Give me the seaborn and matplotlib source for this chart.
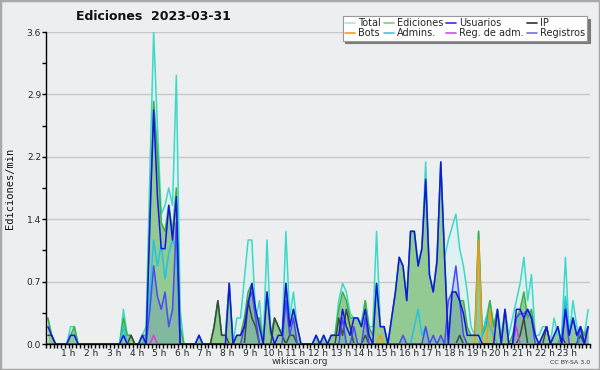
import numpy as np
import pandas as pd
import matplotlib
matplotlib.use("Agg")
import matplotlib.pyplot as plt
from matplotlib.lines import Line2D
from matplotlib.patches import Rectangle
import seaborn as sns

# Ediciones por minuto, intervalos de 10 min (144 puntos, 2 horas por fila)
total = [
    0.3, 0.1, 0, 0, 0, 0,   0.2, 0.2, 0, 0, 0, 0,
    0, 0, 0, 0, 0, 0,       0, 0, 0.4, 0.1, 0.1, 0,
    0, 0.1, 0.2, 2.0, 3.6, 2.5,   1.5, 1.6, 1.8, 1.6, 3.1, 0.4,
    0, 0, 0, 0, 0.1, 0,     0, 0, 0.2, 0.5, 0.1, 0.1,
    0.7, 0, 0.3, 0.3, 0.75, 1.2,  1.2, 0.3, 0.5, 0, 1.2, 0.1,
    0.3, 0.2, 0.1, 1.3, 0.3, 0.6, 0.2, 0, 0, 0, 0, 0.1,
    0, 0.1, 0, 0.1, 0.1, 0.5,  0.7, 0.6, 0.35, 0.3, 0.3, 0.25,
    0.5, 0.2, 0.2, 1.3, 0.2, 0.2,  0, 0.3, 0.6, 1.0, 0.9, 0.5,
    1.3, 1.3, 0.95, 1.1, 2.1, 0.8,  0.6, 1.0, 2.1, 1.0, 1.2, 1.35,
    1.5, 1.1, 0.9, 0.6, 0.2, 0.1,  1.3, 0.1, 0.3, 0.5, 0.2, 0.4,
    0.1, 0.4, 0.1, 0.3, 0.5, 0.7,  1.0, 0.5, 0.8, 0.1, 0.1, 0.2,
    0.2, 0, 0.3, 0.1, 0.1, 1.0,  0.1, 0.5, 0.2, 0.1, 0.1, 0.4,
]
ediciones = [
    0.3, 0.1, 0, 0, 0, 0,   0.1, 0.2, 0, 0, 0, 0,
    0, 0, 0, 0, 0, 0,       0, 0, 0.3, 0.1, 0.1, 0,
    0, 0.1, 0.1, 1.5, 2.8, 2.2,   1.4, 1.3, 1.6, 1.3, 1.8, 0.2,
    0, 0, 0, 0, 0.1, 0,     0, 0, 0.2, 0.5, 0.1, 0.1,
    0.7, 0, 0.1, 0.1, 0.3, 0.6,   0.7, 0.3, 0.3, 0, 0.6, 0.1,
    0.3, 0.2, 0.1, 0.7, 0.2, 0.4, 0.2, 0, 0, 0, 0, 0.1,
    0, 0.1, 0, 0.1, 0.1, 0.4,  0.6, 0.5, 0.3, 0.3, 0.3, 0.2,
    0.5, 0.2, 0.1, 0.7, 0.2, 0.2,  0, 0.3, 0.6, 1.0, 0.9, 0.5,
    1.3, 1.3, 0.9, 1.1, 1.9, 0.8,  0.6, 0.95, 2.1, 1.0, 0.1, 0.6,
    0.6, 0.5, 0.5, 0.2, 0.1, 0.1,  1.3, 0.1, 0.2, 0.5, 0.2, 0.4,
    0, 0.4, 0, 0.1, 0.3, 0.4,  0.6, 0.3, 0.4, 0.1, 0, 0.1,
    0.2, 0, 0.1, 0.2, 0, 0.5,  0.1, 0.3, 0.1, 0.2, 0.1, 0.2,
]
usuarios = [
    0.2, 0.1, 0, 0, 0, 0,   0.1, 0.1, 0, 0, 0, 0,
    0, 0, 0, 0, 0, 0,       0, 0, 0.1, 0, 0, 0,
    0, 0.1, 0, 1.4, 2.7, 1.7,   1.1, 1.1, 1.6, 1.2, 1.7, 0,
    0, 0, 0, 0, 0.1, 0,     0, 0, 0, 0, 0, 0,
    0.7, 0, 0.1, 0.1, 0.2, 0.45,  0.7, 0.4, 0.2, 0, 0.6, 0.15,
    0, 0.1, 0.1, 0.7, 0.2, 0.4,  0.2, 0, 0, 0, 0, 0.1,
    0, 0.1, 0, 0.1, 0.1, 0.1,  0.4, 0.2, 0.1, 0.3, 0.3, 0.2,
    0.4, 0.1, 0, 0.7, 0.2, 0.2,  0, 0.3, 0.6, 1.0, 0.9, 0.5,
    1.3, 1.3, 0.9, 1.1, 1.9, 0.8,  0.6, 0.95, 2.1, 1.0, 0, 0.6,
    0.6, 0.5, 0.35, 0.1, 0.1, 0.1,  0.1, 0, 0, 0, 0, 0.4,
    0, 0.4, 0, 0, 0.4, 0.4,  0.3, 0.4, 0.3, 0.1, 0, 0.1,
    0.2, 0, 0.1, 0.2, 0, 0.4,  0.1, 0.3, 0.1, 0.2, 0, 0.2,
]
ip = [
    0.1, 0.1, 0, 0, 0, 0,   0, 0, 0, 0, 0, 0,
    0, 0, 0, 0, 0, 0,       0, 0, 0, 0, 0.1, 0,
    0, 0, 0, 0, 0, 0,       0, 0, 0, 0, 0, 0,
    0, 0, 0, 0, 0, 0,       0, 0, 0.2, 0.5, 0.1, 0.1,
    0, 0, 0, 0, 0, 0.5,     0.3, 0.2, 0, 0, 0, 0,
    0.3, 0.2, 0.1, 0, 0.1, 0.1,  0, 0, 0, 0, 0, 0,
    0, 0, 0, 0, 0, 0.3,     0.1, 0.4, 0.2, 0, 0, 0,
    0.1, 0, 0, 0, 0, 0,     0, 0, 0, 0, 0, 0,
    0, 0, 0, 0, 0, 0,       0, 0, 0, 0, 0, 0,
    0, 0.1, 0, 0, 0, 0,     0, 0, 0, 0, 0, 0,
    0, 0, 0, 0, 0, 0.1,     0.3, 0, 0, 0, 0, 0,
    0.2, 0, 0, 0, 0.1, 0,   0, 0, 0, 0.1, 0, 0,
]
admins = [
    0, 0, 0, 0, 0, 0,       0.1, 0.1, 0, 0, 0, 0,
    0, 0, 0, 0, 0, 0,       0, 0, 0.2, 0, 0, 0,
    0, 0, 0.1, 0.6, 1.2, 0.9,   1.15, 0.75, 1.05, 1.2, 1.1, 0,
    0, 0, 0, 0, 0, 0,       0, 0, 0, 0, 0, 0,
    0, 0, 0, 0, 0, 0,       0, 0, 0, 0, 0, 0,
    0, 0, 0, 0, 0, 0,       0, 0, 0, 0, 0, 0,
    0, 0, 0, 0, 0, 0,       0, 0, 0, 0, 0, 0,
    0, 0, 0, 0, 0, 0,       0, 0, 0, 0, 0, 0,
    0, 0.2, 0.4, 0.1, 0.2, 0,   0, 0, 0, 0, 0, 0,
    0, 0, 0, 0, 0, 0,       0, 0.1, 0.3, 0.2, 0.1, 0,
    0, 0, 0, 0, 0, 0,       0, 0, 0, 0, 0, 0,
    0, 0, 0, 0, 0.1, 0.55,  0.1, 0.3, 0.1, 0, 0, 0,
]
registros = [
    0, 0, 0, 0, 0, 0,       0, 0, 0, 0, 0, 0,
    0, 0, 0, 0, 0, 0,       0, 0, 0, 0, 0, 0,
    0, 0, 0, 0.4, 0.9, 0.55,   0.4, 0.6, 0.2, 0.4, 1.4, 0,
    0, 0, 0, 0, 0, 0,       0, 0, 0, 0, 0, 0,
    0, 0, 0, 0, 0.2, 0.5,   0.6, 0.3, 0, 0, 0, 0,
    0, 0, 0, 0.5, 0.1, 0.3, 0, 0, 0, 0, 0, 0,
    0, 0, 0, 0, 0, 0,       0.3, 0, 0, 0.2, 0, 0,
    0.3, 0, 0, 0, 0, 0,     0, 0, 0, 0, 0.1, 0,
    0, 0, 0, 0, 0.2, 0,     0.1, 0, 0.1, 0, 0.5, 0.6,
    0.9, 0.5, 0.1, 0, 0, 0, 0, 0, 0, 0, 0, 0,
    0, 0, 0, 0, 0.3, 0.35,  0.35, 0.4, 0.3, 0, 0, 0,
    0, 0, 0, 0, 0, 0.4,     0, 0, 0, 0.2, 0, 0.2,
]
bots = [0.0] * 144
bots[88] = 0.1
bots[114] = 1.2
bots[117] = 0.4
reg_adm = [0.0] * 144
reg_adm[28] = 0.1
reg_adm[124] = 0.2

hour_labels = [f"{h} h" for h in range(1, 24)]
y_ticks = [0.0, 0.72, 1.44, 2.16, 2.88, 3.6]

df = pd.DataFrame({
    "hora": (np.arange(144) + 0.5) / 6,
    "Total": total, "Ediciones": ediciones, "Usuarios": usuarios, "IP": ip,
    "Bots": bots, "Admins.": admins, "Reg. de adm.": reg_adm, "Registros": registros,
})

sns.set_theme(style="white")
plt.rcParams["font.family"] = ["DejaVu Sans"]
bg = "#edeef0"

fig = plt.figure(figsize=(6, 3.7), dpi=100, facecolor=bg)
ax = fig.add_axes([46 / 600, 1 - 344 / 370, 544 / 600, 312 / 370])
ax.set_facecolor(bg)

# areas
ax.fill_between(df["hora"], df["Total"], color="#daf2f0", alpha=0.85, lw=0, zorder=1)
ax.fill_between(df["hora"], df["Ediciones"], color="#93c993", lw=0, zorder=2)
ax.fill_between(df["hora"], df["Registros"], color="#4a7ad0", alpha=0.22, lw=0, zorder=3)

lines = [
    ("Total", "#3ed8c8", 4),
    ("Ediciones", "#3cb043", 5),
    ("IP", "#3a4a3a", 6),
    ("Bots", "#f29a1a", 7),
    ("Reg. de adm.", "#cc44dd", 7),
    ("Admins.", "#22c4e0", 8),
    ("Registros", "#4a4af2", 9),
    ("Usuarios", "#1414e6", 10),
]
for name, color, z in lines:
    sns.lineplot(data=df, x="hora", y=name, ax=ax, color=color, lw=1.1,
                 zorder=z, legend=False)

ax.set_xlim(0, 24)
ax.set_ylim(0, 3.6)
ax.set_xticks(range(1, 24))
ax.set_xticklabels(hour_labels)
ax.set_xticks(np.arange(0, 24.01, 1 / 6), minor=True)
ax.set_yticks(y_ticks)
ax.set_yticklabels([f"{v:.1f}" for v in y_ticks])
ax.set_yticks(np.arange(0.36, 3.6, 0.72), minor=True)
ax.tick_params(axis="both", which="both", direction="out", length=3, width=1,
               color="black", labelsize=6.5, pad=0.5, left=True, bottom=True)
ax.grid(axis="y", color="#c8c8c8", lw=1, zorder=0)
ax.set_axisbelow(True)
for side in ["top", "right"]:
    ax.spines[side].set_visible(False)
for side in ["left", "bottom"]:
    ax.spines[side].set_color("black")
    ax.spines[side].set_linewidth(1)
    ax.spines[side].set_zorder(20)
ax.set_xlabel("")
ax.set_ylabel("")

fig.text(10 / 600, 1 - 188 / 370, "Ediciones/min", rotation=90, ha="center", va="center",
         fontsize=7.5, family="DejaVu Sans Mono", color="#111111")
fig.text(153 / 600, 1 - 17 / 370, "Ediciones  2023-03-31", ha="center", va="center",
         fontsize=9, fontweight="bold", color="#111111")
fig.text(300 / 600, 1 - 362 / 370, "wikiscan.org", ha="center", va="center",
         fontsize=6.5, color="#333333")
fig.text(590 / 600, 1 - 362 / 370, "CC BY-SA 3.0", ha="right", va="center",
         fontsize=4.5, color="#333333")

# leyenda (ncol=4 rellena por columnas)
leg_items = [("Total", "#a8e8e0"), ("Bots", "#f29a1a"), ("Ediciones", "#80cc80"),
             ("Admins.", "#40c8e0"), ("Usuarios", "#3434d8"), ("Reg. de adm.", "#d050e0"),
             ("IP", "#303030"), ("Registros", "#7070f0")]
handles = [Line2D([0], [0], color=c, lw=1.2) for _, c in leg_items]
leg = fig.legend(handles, [n for n, _ in leg_items], ncol=4, loc="upper right",
                 bbox_to_anchor=(592 / 600, 1 - 11 / 370), fontsize=7, frameon=True,
                 fancybox=False, shadow={"color": "#7a7a7a", "alpha": 1},
                 handlelength=1.0, handletextpad=0.3, columnspacing=0.35,
                 labelspacing=0.0, borderpad=0.25)
leg.get_frame().set_edgecolor("#999999")
leg.get_frame().set_linewidth(0.8)

fig.patches.append(Rectangle((0, 0), 1, 1, transform=fig.transFigure, fill=False,
                             edgecolor="#a8a8a8", lw=2.5))

fig.savefig("out.png", dpi=100, facecolor=bg)
